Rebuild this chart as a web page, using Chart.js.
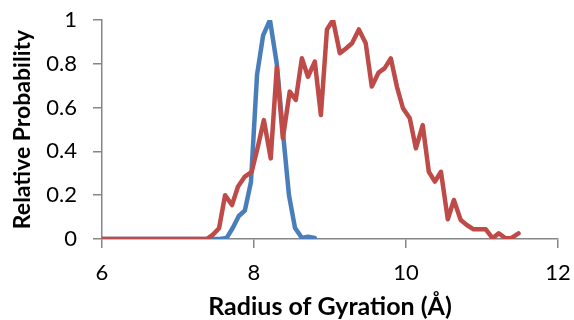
<!DOCTYPE html>
<html>
<head>
<meta charset="utf-8">
<script src="https://cdn.jsdelivr.net/npm/chart.js@4/dist/chart.umd.min.js"></script>
<style>
html,body{margin:0;padding:0;background:#fff;}
#wrap{width:574px;height:320px;position:relative;}
</style>
</head>
<body>
<div id="wrap"><canvas id="c" width="574" height="320"></canvas></div>
<script>
const xTitle = "Radius of Gyration (Å)";
const yTitle = "Relative Probability";

const blueX = [6, 7.55, 7.64, 7.72, 7.80, 7.88, 7.96, 8.04, 8.12, 8.21, 8.30, 8.38, 8.46, 8.54, 8.63, 8.71, 8.80];
const blueY = [0, 0, 0.005, 0.05, 0.105, 0.13, 0.26, 0.75, 0.93, 1.0, 0.80, 0.49, 0.2, 0.05, 0.005, 0.01, 0.005];

const redX = [6, 7.38, 7.46, 7.54, 7.62, 7.71, 7.79, 7.88, 7.97, 8.05, 8.13, 8.22, 8.30, 8.38, 8.47, 8.55, 8.63, 8.71, 8.80, 8.88, 8.96, 9.04, 9.13, 9.21, 9.29, 9.38, 9.47, 9.55, 9.64, 9.72, 9.80, 9.88, 9.96, 10.05, 10.13, 10.22, 10.30, 10.38, 10.46, 10.55, 10.63, 10.72, 10.80, 10.89, 10.97, 11.05, 11.14, 11.22, 11.31, 11.39, 11.48];
const redY = [0, 0, 0.02, 0.049, 0.20, 0.155, 0.24, 0.285, 0.307, 0.42, 0.543, 0.368, 0.785, 0.46, 0.673, 0.635, 0.825, 0.741, 0.81, 0.566, 0.957, 1.0, 0.848, 0.87, 0.894, 0.957, 0.894, 0.696, 0.76, 0.78, 0.825, 0.696, 0.597, 0.551, 0.414, 0.52, 0.307, 0.262, 0.307, 0.09, 0.178, 0.087, 0.064, 0.044, 0.044, 0.044, 0.003, 0.026, 0.003, 0.005, 0.026];

const xMin = 6, xMax = 12, xStep = 2;
const yMin = 0, yMax = 1, yStep = 0.2;

const toPts = (xs, ys) => xs.map((x, i) => ({x: x, y: ys[i]}));

const axisGray = '#868686';
const fontFam = 'Lato, "Open Sans", "Liberation Sans", sans-serif';

new Chart(document.getElementById('c'), {
  type: 'line',
  data: {
    datasets: [
      {label: 'B', data: toPts(redX, redY), borderColor: '#be4b48', borderWidth: 4.5, pointRadius: 0, tension: 0, fill: false, borderJoinStyle: 'round', borderCapStyle: 'round', order: 0},
      {label: 'A', data: toPts(blueX, blueY), borderColor: '#4a7ebb', borderWidth: 4.5, pointRadius: 0, tension: 0, fill: false, borderJoinStyle: 'round', borderCapStyle: 'round', order: 1}
    ]
  },
  options: {
    responsive: false,
    animation: false,
    devicePixelRatio: 1,
    layout: {padding: {top: 20, right: 16, left: 0, bottom: 0}},
    plugins: {legend: {display: false}, tooltip: {enabled: false}},
    scales: {
      x: {
        type: 'linear', min: xMin, max: xMax,
        ticks: {stepSize: xStep, color: '#000', font: {family: fontFam, size: 22}, padding: 12, maxRotation: 0},
        grid: {drawOnChartArea: false, drawTicks: true, tickLength: 9, color: axisGray, lineWidth: 1.5},
        border: {color: axisGray, width: 1.5},
        title: {display: true, text: xTitle, color: '#000', font: {family: fontFam, size: 25, weight: 'bold'}, padding: {top: 0, bottom: -2}},
        afterFit: s => { s.height = 81; s.paddingLeft = 0; s.paddingRight = 0; }
      },
      y: {
        min: yMin, max: yMax,
        ticks: {stepSize: yStep, color: '#000', font: {family: fontFam, size: 22}, padding: 16,
          callback: v => String(+v.toFixed(1))},
        grid: {drawOnChartArea: false, drawTicks: true, tickLength: 9, color: axisGray, lineWidth: 1.5},
        border: {color: axisGray, width: 1.5},
        title: {display: true, text: yTitle, color: '#000', font: {family: fontFam, size: 23, weight: 'bold'}, padding: {top: 9, bottom: 0}},
        afterFit: s => { s.width = 102; s.paddingTop = 0; s.paddingBottom = 0; }
      }
    }
  }
});
</script>
</body>
</html>
